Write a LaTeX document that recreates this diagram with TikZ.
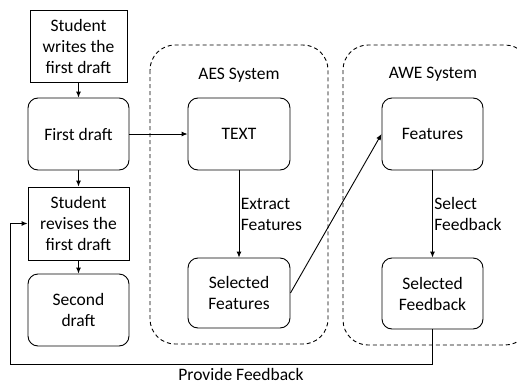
\documentclass[tikz,border=0pt]{standalone}
\usepackage{fontspec}
\setmainfont{Carlito}
\usetikzlibrary{arrows.meta}
\begin{document}
\begin{tikzpicture}[x=1pt, y=-1pt]
			\tikzset{kasten/.style={draw=black, line width=0.9pt, align=center, minimum width=101pt, minimum height=72pt, inner sep=2pt, font=\fontsize{17.5}{21}\selectfont}}
			\tikzset{rund/.style={kasten, rounded corners=10pt}}
			\tikzset{system/.style={draw=black, line width=0.9pt, dash pattern=on 4pt off 3pt, rounded corners=25pt}}
			\tikzset{pfeil/.style={draw=black, line width=0.9pt, -{Latex[length=6pt,width=5pt]}}}
			\tikzset{schrift/.style={font=\fontsize{17.5}{21}\selectfont, align=left}}
			\useasboundingbox (0,0) rectangle (517,383);
			\clip (0,0) rectangle (517,383);

			% System boxes
			\draw [system] (150,45) rectangle (328,344);
			\draw [system] (343,45) rectangle (530,345);
			\node[schrift] at (239,75) (aes) {AES System};
			\node[schrift] at (433,74) (awe) {AWE System};

			% Student side
			\node[kasten, minimum width=97pt] at (78.5,46) (a) {Student\\writes the\\first draft};
			\node[rund] at (78.5,134) (b) {First draft};
			\node[kasten, minimum height=73pt] at (78.5,223.5) (c) {Student\\revises the\\first draft};
			\node[rund] at (78.5,310) (d) {Second\\draft};

			% AES and AWE
			\node[rund, minimum width=102pt] at (239,134) (e) {TEXT};
			\node[rund, minimum width=102pt, minimum height=70pt] at (239,293) (f) {Selected\\Features};
			\node[rund] at (432.5,134) (g) {Features};
			\node[rund, minimum height=71pt] at (432.5,293.5) (h) {Selected\\Feedback};
			\coordinate (k) at (10,364);

			% Arrows
			\draw [pfeil] (a) -- (b);
			\draw [pfeil] (b) -- (c);
			\draw [pfeil] (c) -- (d);
			\draw [pfeil] (b) -- (e);
			\draw [pfeil] (e) -- node[schrift, right, xshift=-2pt] {Extract\\Features} (f);
			\draw [pfeil] (f.east) -- (g.west);
			\draw [pfeil] (g) -- node[schrift, right, xshift=-2pt] {Select\\Feedback} (h);
			\draw [pfeil] (h.south) |- (k) |- (c.west);
			\node[schrift, inner sep=1pt] at (241,374) (l) {Provide Feedback};
		\end{tikzpicture}
\end{document}
